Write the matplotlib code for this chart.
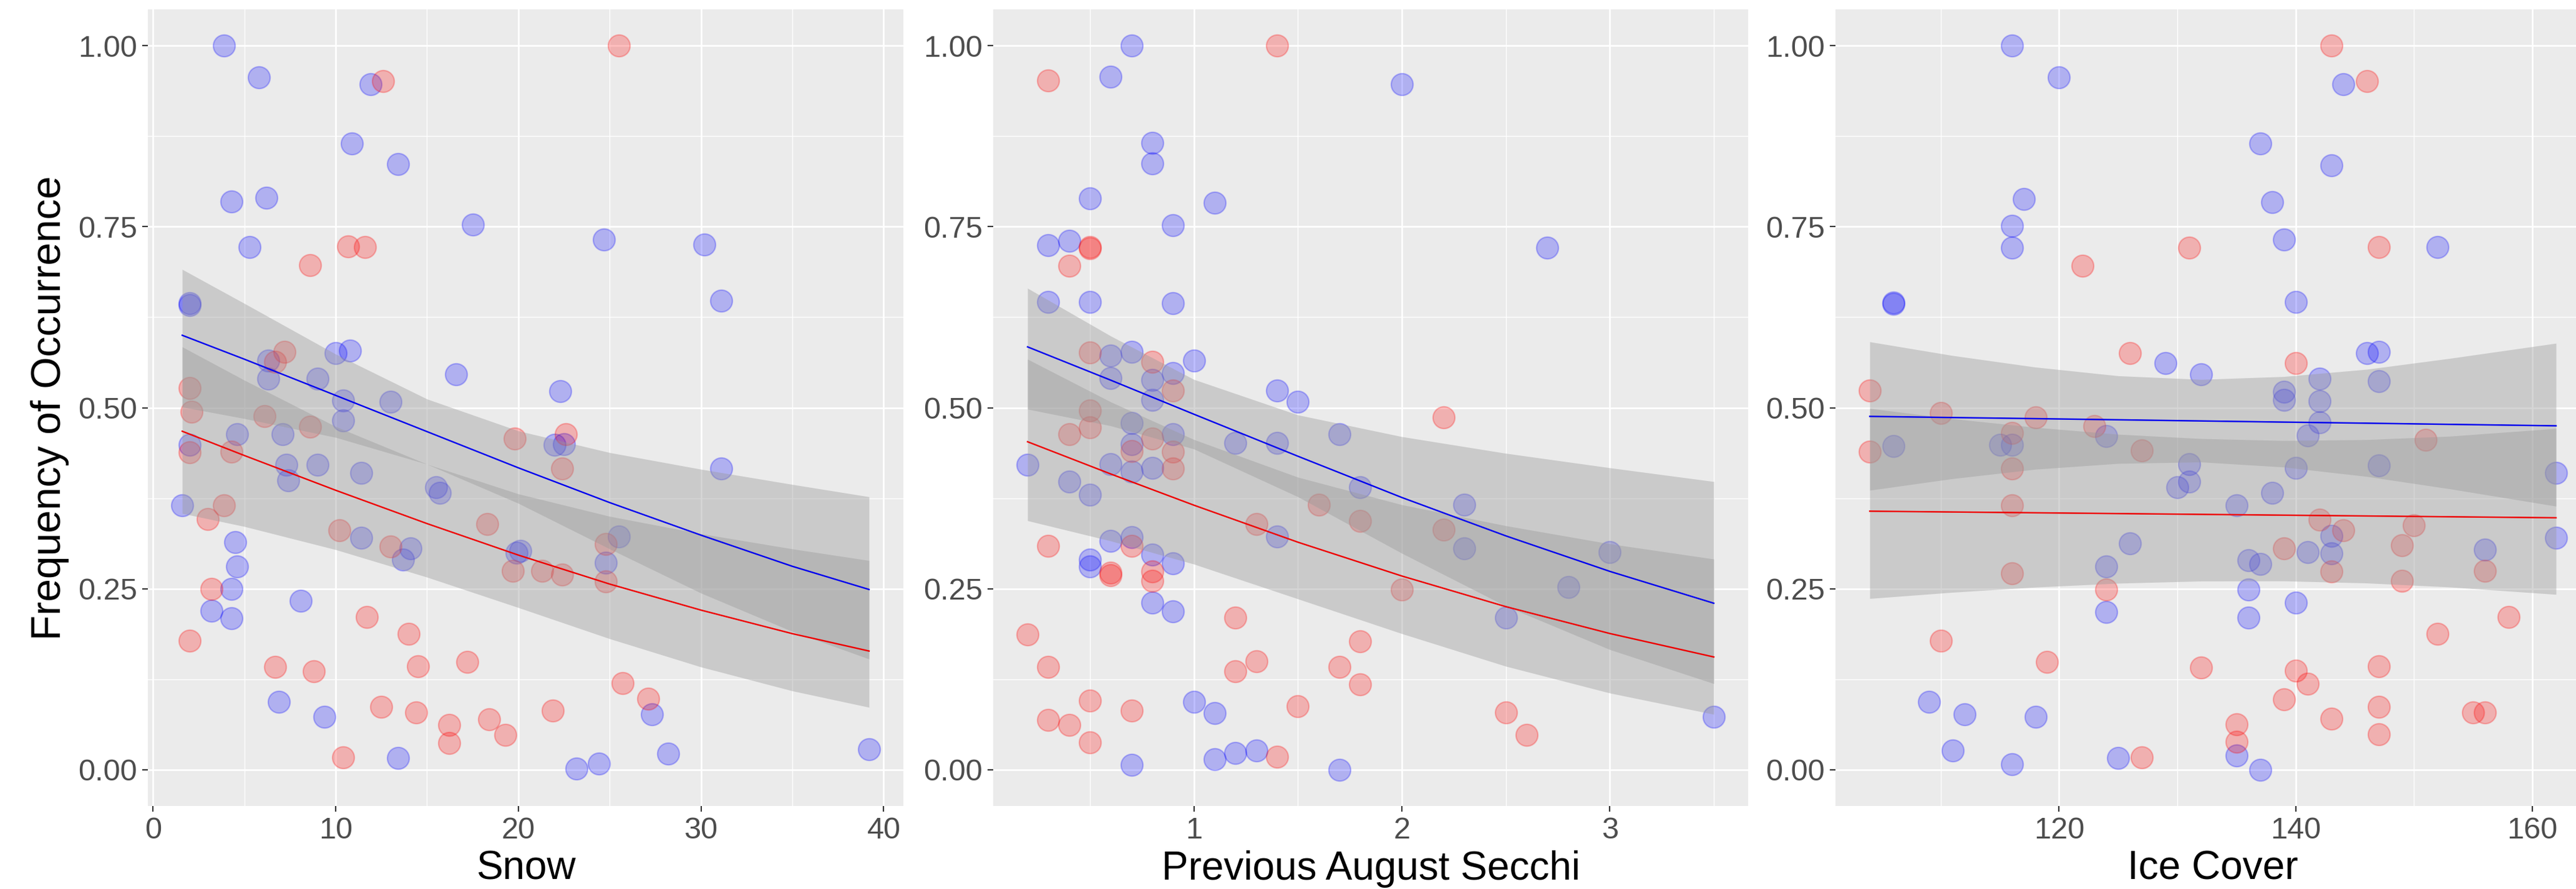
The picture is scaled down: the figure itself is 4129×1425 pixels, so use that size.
import numpy as np
import matplotlib
matplotlib.use("Agg")
import matplotlib.pyplot as plt

plt.rcParams['font.family'] = ['Liberation Sans', 'DejaVu Sans']

# ---------------- data: Snow ----------------
snow_blue_x = [3.9, 5.8, 11.9, 10.9, 13.4, 4.3, 6.2, 17.5, 5.3, 24.7, 30.2, 31.1, 2.0, 2.0,
               6.3, 10.0, 10.8, 6.3, 9.0, 16.6, 22.3, 10.4, 13.0, 10.4,
               7.1, 4.6, 22.0, 22.5, 2.0, 7.3, 9.0, 11.4, 7.4, 15.5, 15.7, 31.1, 1.6,
               11.4, 14.1, 13.7, 19.9, 20.1, 25.5, 24.8, 4.5, 4.6, 4.3, 3.2, 4.3, 8.1,
               27.3, 6.9, 9.4, 13.4, 23.2, 24.4, 28.2, 39.2]
snow_blue_y = [1.00, 0.956, 0.947, 0.865, 0.836, 0.785, 0.79, 0.753, 0.722, 0.732, 0.725, 0.648, 0.644, 0.642,
               0.565, 0.575, 0.579, 0.54, 0.54, 0.546, 0.523, 0.51, 0.508, 0.482,
               0.463, 0.463, 0.449, 0.45, 0.449, 0.421, 0.421, 0.41, 0.40, 0.39, 0.382, 0.416, 0.365,
               0.32, 0.306, 0.29, 0.30, 0.302, 0.322, 0.286, 0.314, 0.281, 0.25, 0.22, 0.209, 0.233,
               0.077, 0.094, 0.073, 0.016, 0.002, 0.009, 0.022, 0.028]
snow_red_x = [25.5, 12.6, 10.7, 11.6, 8.6, 7.2, 6.7, 2.0, 2.1, 6.1, 8.6,
              19.8, 22.6, 22.4, 2.0, 4.3, 3.9, 3.0, 18.3, 10.2, 13.0, 19.7, 21.3, 22.4, 24.8, 24.8, 3.2,
              2.0, 11.7, 14.0, 6.7, 8.8, 14.5, 17.2, 25.7, 27.1, 12.5, 14.4, 16.2, 16.2, 18.4, 19.3, 21.9, 10.4]
snow_red_y = [1.00, 0.951, 0.723, 0.722, 0.697, 0.577, 0.563, 0.527, 0.494, 0.488, 0.474,
              0.457, 0.463, 0.416, 0.438, 0.439, 0.365, 0.346, 0.339, 0.331, 0.308, 0.275, 0.275, 0.27, 0.312, 0.26, 0.25,
              0.178, 0.211, 0.188, 0.142, 0.136, 0.143, 0.149, 0.12, 0.098, 0.087, 0.079, 0.062, 0.037, 0.07, 0.048, 0.082, 0.017]
# fitted curves and confidence bands
snow_fit_x = [1.6, 5, 10, 15, 20, 25, 30, 35, 39.2]
snow_blue_fit = [0.600, 0.567, 0.517, 0.467, 0.417, 0.369, 0.324, 0.281, 0.249]
snow_blue_hi = [0.691, 0.644, 0.574, 0.512, 0.468, 0.438, 0.415, 0.394, 0.377]
snow_blue_lo = [0.501, 0.485, 0.459, 0.422, 0.368, 0.305, 0.244, 0.191, 0.153]
snow_red_fit = [0.4675, 0.434, 0.386, 0.340, 0.2965, 0.2565, 0.2205, 0.188, 0.164]
snow_red_hi = [0.584, 0.538, 0.474, 0.422, 0.381, 0.350, 0.326, 0.305, 0.289]
snow_red_lo = [0.354, 0.336, 0.304, 0.266, 0.224, 0.181, 0.142, 0.109, 0.0863]

# ---------------- data: Previous August Secchi ----------------
secchi_blue_x = [0.7, 0.6, 2.0, 0.8, 0.8, 0.5, 1.1, 0.9, 0.3, 0.4, 2.7, 0.3, 0.5, 0.9,
                 0.6, 0.7, 1.0, 0.6, 0.8, 0.9, 0.8, 1.4, 1.5,
                 0.7, 0.9, 0.7, 1.2, 1.4, 1.7, 0.2, 0.6, 0.7, 0.8, 0.4, 0.5, 1.8, 2.3, 1.4, 2.3, 3.0,
                 0.6, 0.7, 0.8, 0.9, 0.5, 0.5, 2.8, 0.8, 0.9, 2.5, 1.0, 1.1, 3.5, 1.1, 1.2, 1.3, 0.7, 1.7]
secchi_blue_y = [1.00, 0.957, 0.947, 0.866, 0.837, 0.789, 0.783, 0.752, 0.724, 0.73, 0.721, 0.646, 0.646, 0.644,
                 0.572, 0.577, 0.565, 0.541, 0.538, 0.548, 0.511, 0.524, 0.508,
                 0.479, 0.463, 0.45, 0.451, 0.451, 0.463, 0.421, 0.422, 0.412, 0.417, 0.398, 0.38, 0.39, 0.366, 0.322, 0.306, 0.301,
                 0.316, 0.321, 0.297, 0.285, 0.29, 0.281, 0.252, 0.231, 0.219, 0.21, 0.094, 0.078, 0.073, 0.015, 0.023, 0.027, 0.007, 0.0]
secchi_red_x = [1.4, 0.3, 0.5, 0.5, 0.4, 0.5, 0.8, 0.9, 2.2, 0.5, 0.5, 0.4, 0.8, 0.7, 0.9, 0.9,
                1.6, 1.8, 1.3, 2.2, 0.3, 0.7, 0.6, 0.6, 0.8, 0.8, 2.0, 1.2, 0.2, 1.8, 0.3, 1.2, 1.3, 1.7, 1.8,
                0.5, 0.7, 1.5, 0.3, 0.4, 0.5, 2.5, 2.6, 1.4]
secchi_red_y = [1.00, 0.952, 0.722, 0.72, 0.696, 0.576, 0.563, 0.524, 0.487, 0.496, 0.473, 0.463, 0.457, 0.44, 0.439, 0.416,
                0.366, 0.344, 0.339, 0.332, 0.309, 0.309, 0.272, 0.269, 0.274, 0.261, 0.249, 0.21, 0.187, 0.177, 0.142, 0.136, 0.15, 0.142, 0.118,
                0.096, 0.082, 0.088, 0.069, 0.062, 0.038, 0.079, 0.048, 0.018]
secchi_fit_x = [0.2, 0.6, 1.0, 1.5, 2.0, 2.5, 3.0, 3.5]
secchi_blue_fit = [0.584, 0.538, 0.491, 0.433, 0.376, 0.323, 0.274, 0.230]
secchi_blue_hi = [0.665, 0.599, 0.539, 0.490, 0.460, 0.437, 0.417, 0.398]
secchi_blue_lo = [0.498, 0.475, 0.443, 0.377, 0.299, 0.226, 0.166, 0.119]
secchi_red_fit = [0.453, 0.4085, 0.3654, 0.3143, 0.2676, 0.2253, 0.1882, 0.1558]
secchi_red_hi = [0.567, 0.508, 0.456, 0.404, 0.366, 0.337, 0.312, 0.291]
secchi_red_lo = [0.344, 0.316, 0.284, 0.236, 0.188, 0.143, 0.106, 0.0766]

# ---------------- data: Ice Cover ----------------
ice_blue_x = [116, 120, 144, 137, 143, 117, 138, 116, 116, 139, 152, 106, 106, 140, 129, 132, 146, 147, 142, 147,
              139, 139, 142, 142, 124, 141, 106, 115, 116, 140, 147, 162, 131, 131, 130, 138, 135, 143, 126, 141,
              143, 162, 156, 136, 137, 124, 136, 140, 124, 136, 135, 137, 125, 116, 111, 109, 112, 118]
ice_blue_y = [1.00, 0.956, 0.947, 0.865, 0.835, 0.788, 0.784, 0.751, 0.721, 0.732, 0.722, 0.643, 0.645, 0.646, 0.562, 0.546, 0.575, 0.577, 0.54, 0.537,
              0.522, 0.511, 0.509, 0.48, 0.461, 0.462, 0.447, 0.449, 0.449, 0.417, 0.42, 0.41, 0.422, 0.398, 0.39, 0.382, 0.365, 0.323, 0.313, 0.301,
              0.299, 0.32, 0.304, 0.289, 0.284, 0.281, 0.249, 0.231, 0.218, 0.21, 0.02, 0.0, 0.016, 0.008, 0.027, 0.094, 0.077, 0.073]
ice_red_x = [143, 146, 131, 147, 122, 126, 140, 104, 110, 118, 123, 104, 116, 127, 116, 151, 116, 142, 144, 150,
             139, 149, 116, 143, 156, 124, 149, 158, 110, 152, 119, 132, 140, 147, 141, 139, 147, 143, 155, 156,
             147, 135, 135, 127]
ice_red_y = [1.00, 0.951, 0.721, 0.722, 0.696, 0.575, 0.562, 0.524, 0.493, 0.487, 0.475, 0.439, 0.465, 0.441, 0.416, 0.456, 0.365, 0.345, 0.331, 0.338,
             0.306, 0.31, 0.271, 0.274, 0.275, 0.249, 0.261, 0.211, 0.178, 0.188, 0.149, 0.141, 0.137, 0.143, 0.119, 0.097, 0.087, 0.071, 0.079, 0.079,
             0.049, 0.063, 0.039, 0.017]
ice_fit_x = [104, 111, 118, 125, 132, 139, 146, 153, 162]
ice_blue_fit = [0.488, 0.4864, 0.4849, 0.4833, 0.4817, 0.4801, 0.4786, 0.4770, 0.4750]
ice_blue_hi = [0.591, 0.572, 0.556, 0.544, 0.539, 0.543, 0.553, 0.568, 0.589]
ice_blue_lo = [0.386, 0.402, 0.415, 0.423, 0.425, 0.418, 0.405, 0.388, 0.364]
ice_red_fit = [0.3571, 0.3560, 0.3549, 0.3538, 0.3527, 0.3516, 0.3505, 0.3494, 0.3480]
ice_red_hi = [0.499, 0.4848, 0.4728, 0.4633, 0.4573, 0.4546, 0.4559, 0.4606, 0.4713]
ice_red_lo = [0.2365, 0.2451, 0.2522, 0.2576, 0.2606, 0.2608, 0.2579, 0.2524, 0.2422]

y_ticks = [0.00, 0.25, 0.50, 0.75, 1.00]
y_tick_labels = ["0.00", "0.25", "0.50", "0.75", "1.00"]
y_minor = [0.125, 0.375, 0.625, 0.875]

panels = [
    dict(title="Snow", bx=snow_blue_x, by=snow_blue_y, rx=snow_red_x, ry=snow_red_y,
         fx=snow_fit_x, bf=snow_blue_fit, bh=snow_blue_hi, bl=snow_blue_lo,
         rf=snow_red_fit, rh=snow_red_hi, rl=snow_red_lo,
         xticks=[0, 10, 20, 30, 40], xlabels=["0", "10", "20", "30", "40"],
         xminor=[5, 15, 25, 35], left=237, width=1211, ylabel="Frequency of Occurrence"),
    dict(title="Previous August Secchi", bx=secchi_blue_x, by=secchi_blue_y, rx=secchi_red_x, ry=secchi_red_y,
         fx=secchi_fit_x, bf=secchi_blue_fit, bh=secchi_blue_hi, bl=secchi_blue_lo,
         rf=secchi_red_fit, rh=secchi_red_hi, rl=secchi_red_lo,
         xticks=[1, 2, 3], xlabels=["1", "2", "3"],
         xminor=[0.5, 1.5, 2.5, 3.5], left=1592, width=1210, ylabel=None),
    dict(title="Ice Cover", bx=ice_blue_x, by=ice_blue_y, rx=ice_red_x, ry=ice_red_y,
         fx=ice_fit_x, bf=ice_blue_fit, bh=ice_blue_hi, bl=ice_blue_lo,
         rf=ice_red_fit, rh=ice_red_hi, rl=ice_red_lo,
         xticks=[120, 140, 160], xlabels=["120", "140", "160"],
         xminor=[110, 130, 150], left=2942, width=1210, ylabel=None),
]

W, H = 4129, 1425
fig = plt.figure(figsize=(W / 100, H / 100), dpi=100)
fig.patch.set_facecolor('white')

top_px, bottom_px = 15, 1292
blue_c = (0.0, 0.0, 1.0)
red_c = (1.0, 0.0, 0.0)
pt_alpha = 0.25

for p in panels:
    ax = fig.add_axes([p['left'] / W, (H - bottom_px) / H, p['width'] / W, (bottom_px - top_px) / H])
    ax.set_facecolor('#EBEBEB')
    for s in ax.spines.values():
        s.set_visible(False)
    ax.set_axisbelow(True)

    allx = list(p['bx']) + list(p['rx'])
    xmin, xmax = min(allx), max(allx)
    rng = xmax - xmin
    ax.set_xlim(xmin - 0.05 * rng, xmax + 0.05 * rng)
    ax.set_ylim(-0.05, 1.05)

    ax.set_xticks(p['xticks'])
    ax.set_xticklabels(p['xlabels'])
    ax.set_xticks(p['xminor'], minor=True)
    ax.set_yticks(y_ticks)
    ax.set_yticklabels(y_tick_labels)
    ax.set_yticks(y_minor, minor=True)
    ax.grid(which='major', color='white', linewidth=1.9)
    ax.grid(which='minor', color='white', linewidth=0.95)
    ax.tick_params(which='minor', length=0)
    ax.tick_params(which='major', length=6.5, width=1.5, color='#333333',
                   labelsize=35, labelcolor='#4D4D4D', pad=6)

    # points
    ax.scatter(p['bx'], p['by'], s=640, facecolors=[blue_c + (pt_alpha,)],
               edgecolors=[blue_c + (pt_alpha,)], linewidths=1.6, zorder=2)
    ax.scatter(p['rx'], p['ry'], s=640, facecolors=[red_c + (pt_alpha,)],
               edgecolors=[red_c + (pt_alpha,)], linewidths=1.6, zorder=2)

    # confidence ribbons
    ax.fill_between(p['fx'], p['bl'], p['bh'], color='#999999', alpha=0.4, linewidth=0, zorder=3)
    ax.fill_between(p['fx'], p['rl'], p['rh'], color='#999999', alpha=0.4, linewidth=0, zorder=3)

    # fitted lines
    ax.plot(p['fx'], p['bf'], color='#0000EE', linewidth=1.7, zorder=4)
    ax.plot(p['fx'], p['rf'], color='#EE0000', linewidth=1.7, zorder=4)

    ax.set_xlabel(p['title'], fontsize=46, color='black', labelpad=6)
    if p['ylabel']:
        ax.set_ylabel(p['ylabel'], fontsize=47.5, color='black', labelpad=10)

fig.savefig("out.png", dpi=100, facecolor='white')
